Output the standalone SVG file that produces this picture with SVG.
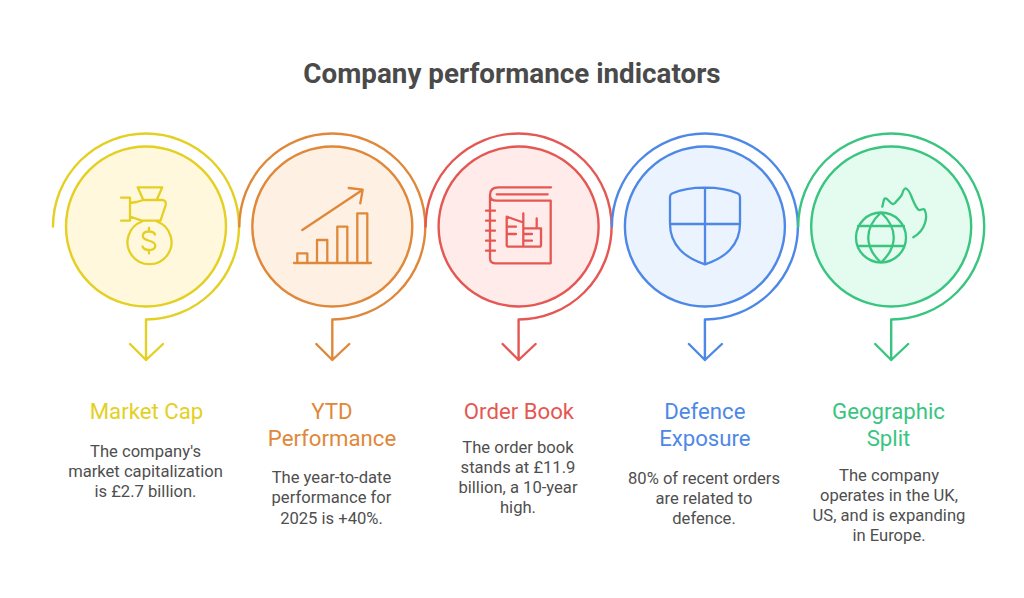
<svg xmlns="http://www.w3.org/2000/svg" width="1024" height="598" viewBox="0 0 1024 598">
<style>
text{font-family:Roboto,"Liberation Sans",sans-serif;text-anchor:middle}
.t{font-size:27.8px;font-weight:700;fill:#4a4a4a}
.h{font-size:22.2px;font-weight:400}
.b{font-size:16.6px;fill:#4f4f4f}
.l{fill:none;stroke-width:2.4;stroke-linecap:round;stroke-linejoin:round}
.i{fill:none;stroke-width:2.3;stroke-linecap:round;stroke-linejoin:round}
.y{stroke:#e4cf23}.o{stroke:#e0883a}.r{stroke:#e55753}.u{stroke:#4e88e7}.g{stroke:#39c57f}
</style>
<rect width="1024" height="598" fill="#fff"/>
<text class="t" x="512" y="82.500">Company performance indicators</text>
<g id="connectors">
<path class="l y" d="M53 226.500A93 93 0 1 1 146 319.500V360M130 344L146 360L163 344"/>
<path class="l o" d="M239.300 226.500A93 93 0 1 1 332.300 319.500V360M316.300 344L332.300 360L349.300 344"/>
<path class="l r" d="M425.600 226.500A93 93 0 1 1 518.600 319.500V360M502.600 344L518.600 360L535.600 344"/>
<path class="l u" d="M611.900 226.500A93 93 0 1 1 704.900 319.500V360M688.900 344L704.900 360L721.900 344"/>
<path class="l g" d="M798.200 226.500A93 93 0 1 1 891.200 319.500V360M875.200 344L891.200 360L908.200 344"/>
</g>
<g id="market-cap">
<circle class="l y" cx="146" cy="226.500" r="80" style="fill:#fff8dc"/>
<path class="i y" d="M137.700 187.300H162.300L156.700 200H143.300ZM121 197.700H130V220.700H121M130 203L136.700 202L143.300 200H162.300Q166.500 200.500 165.700 205L160.500 220.700H141.700L130 216.500M142 221.500A22 22 0 1 0 157 221.500M155 234.500C154 232 151.500 231.500 149 231.500C145.500 231.500 142.800 233 142.800 236C142.800 242 155.300 239.500 155.300 245.500C155.300 248.500 152.500 250 149 250C146 250 143.500 249 142.500 246.500M149 228V231.500M149 250V253.500"/>
<text class="h" x="146.500" y="419" fill="#e4cf23">Market Cap</text>
<text class="b" x="145.500" y="457">The company's</text>
<text class="b" x="145.500" y="477">market capitalization</text>
<text class="b" x="145.500" y="497">is £2.7 billion.</text>
</g>
<g id="ytd-performance">
<circle class="l o" cx="332.300" cy="226.500" r="80" style="fill:#fff0e4"/>
<path class="i o" d="M294 263H371M297.300 263V253.300H307.300V263M317 263V240H327.300V263M337.300 263V226.700H347.300V263M357.300 263V213.300H367.300V263M302.300 230L362.700 189.700M348.700 188L362.700 189.700L360.300 203.300"/>
<text class="h" x="332" y="419" fill="#e0883a">YTD</text>
<text class="h" x="332" y="446" fill="#e0883a">Performance</text>
<text class="b" x="331.500" y="483">The year-to-date</text>
<text class="b" x="331.500" y="503">performance for</text>
<text class="b" x="331.500" y="523.500">2025 is +40%.</text>
</g>
<g id="order-book">
<circle class="l r" cx="518.600" cy="226.500" r="80" style="fill:#ffecea"/>
<path class="i r" d="M551 187.300H498.300Q490 187.300 490 195V258.300Q490 263.300 495 263.300H550.700V200.700H496.700Q490 200.700 490 195M496.700 194.300H547.700M486 210.700H495M486 220.700H495M486 230.700H495M486 240.700H495M486 250.700H495M523.300 213.300V246.700H508.700Q506.700 246.700 506.700 244.700V216.700L523.300 222.500M523.300 228.300H541V245Q541 246.700 539.300 246.700H523.300M536.700 218.300V228.300M507 226.700H516M507 234H516M523.300 234H532M523.300 240.700H532"/>
<text class="h" x="519" y="419" fill="#e55753">Order Book</text>
<text class="b" x="518" y="453">The order book</text>
<text class="b" x="518" y="473">stands at £11.9</text>
<text class="b" x="518" y="493">billion, a 10-year</text>
<text class="b" x="518" y="513">high.</text>
</g>
<g id="defence-exposure">
<circle class="l u" cx="704.900" cy="226.500" r="80" style="fill:#ebf3ff"/>
<path class="i u" d="M705 187.700C693 187.700 680 190 672 193.500Q670 194.500 670 197V224C670 245 685 258 705 264.300C725 258 740 245 740 224V197Q740 194.500 738 193.500C730 190 717 187.700 705 187.700ZM705 187.700V264.300M670 224H740"/>
<text class="h" x="704.900" y="419" fill="#4e88e7">Defence</text>
<text class="h" x="704.900" y="446" fill="#4e88e7">Exposure</text>
<text class="b" x="704" y="484">80% of recent orders</text>
<text class="b" x="704" y="504">are related to</text>
<text class="b" x="704" y="524">defence.</text>
</g>
<g id="geographic-split">
<circle class="l g" cx="891.200" cy="226.500" r="80" style="fill:#e3fcef"/>
<path class="i g" d="M881 212.500A25 25 0 1 0 881 262.500A25 25 0 1 0 881 212.500ZM881 212.500C864 228 864 247 881 262.500C898 247 898 228 881 212.500ZM858 226H904M858 246H904M882.300 206.700L884 199.500Q885 197.500 887 199L891 203Q893 205 895 203C899 198 901 197 902 194.500C903 191 904 188 906 188.500C909 189.500 910 193 912 198C914 203 917 209 919 210C921 210.500 923 208 924.500 209.500C928 216 926 230 913.300 237.300"/>
<text class="h" x="888.500" y="419" fill="#39c57f">Geographic</text>
<text class="h" x="888.500" y="446" fill="#39c57f">Split</text>
<text class="b" x="889" y="481">The company</text>
<text class="b" x="889" y="501">operates in the UK,</text>
<text class="b" x="889" y="521">US, and is expanding</text>
<text class="b" x="889" y="541">in Europe.</text>
</g>
</svg>
